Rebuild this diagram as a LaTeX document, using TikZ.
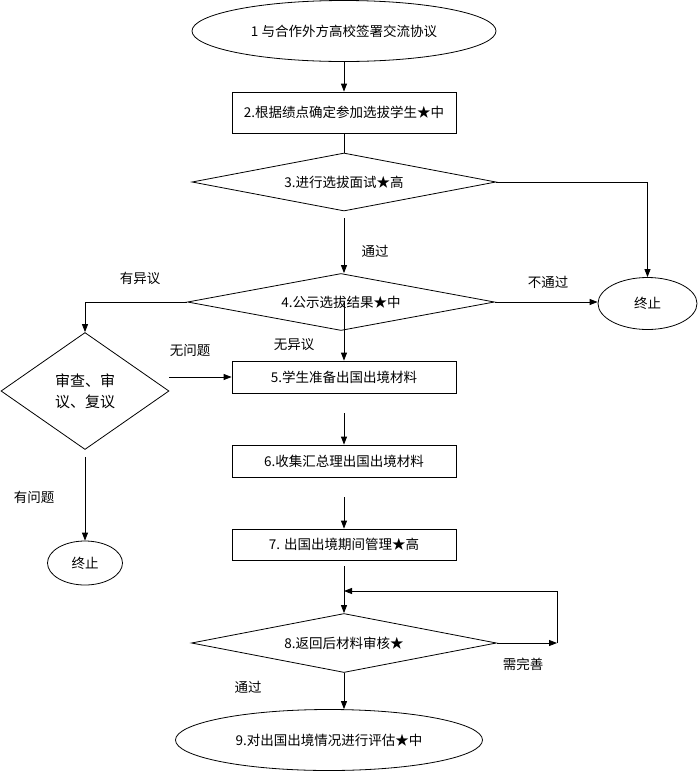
\documentclass[tikz,border=0pt]{standalone}
\usepackage{fontspec}
\setmainfont{Noto Sans CJK SC}
\usetikzlibrary{shapes.geometric,arrows.meta}

\begin{document}
\begin{tikzpicture}[x=1pt, y=-1pt, line width=0.8pt,
    font=\fontsize{13.5}{17}\selectfont,
    oval/.style={ellipse, draw, inner sep=0pt},
    box/.style={rectangle, draw, minimum width=224pt, inner sep=0pt},
    choice/.style={diamond, draw, inner sep=0pt, shape aspect=5},
    arr/.style={-{Triangle[length=8pt,width=6pt]}}]
    \useasboundingbox (0,0) rectangle (699,772);

    % Draw nodes
    \node[oval, minimum width=304pt, minimum height=61pt] (1) at (344,31) {1 与合作外方高校签署交流协议};
    \node[box, minimum height=41pt] (2) at (344,112.5) {2.根据绩点确定参加选拔学生★中};
    \node[choice, minimum width=304pt, minimum height=58pt] (3) at (344,182) {3.进行选拔面试★高};
    \node[choice, minimum width=307pt, minimum height=57pt] (4) at (341,302) {4.公示选拔结果★中};
    \node[oval, minimum width=99pt, minimum height=52pt] (end1) at (647.5,303.5) {终止};
    \node[choice, shape aspect=1.4, minimum width=168pt, minimum height=117pt, align=center,
          font=\fontsize{15}{21}\selectfont] (review) at (85,391) {审查、审\\议、复议};
    \node[oval, minimum width=75pt, minimum height=44pt] (end2) at (85,563) {终止};
    \node[box, minimum height=32pt] (5) at (344,377) {5.学生准备出国出境材料};
    \node[box, minimum height=32pt] (6) at (344,461) {6.收集汇总理出国出境材料};
    \node[box, minimum height=31pt] (7) at (344,544.5) {7. 出国出境期间管理★高};
    \node[choice, minimum width=305pt, minimum height=59pt] (8) at (344,643) {8.返回后材料审核★};
    \node[oval, minimum width=307pt, minimum height=61pt] (9) at (329,740) {9.对出国出境情况进行评估★中};

    % Draw labels
    \node (pass1) at (375,251) {通过};
    \node (objection) at (140,278) {有异议};
    \node (fail) at (548,282) {不通过};
    \node (noissue) at (190,350) {无问题};
    \node (noobjection) at (294,345) {无异议};
    \node (issue) at (34,497) {有问题};
    \node (improve) at (523,664) {需完善};
    \node (pass2) at (248,687) {通过};

    % Loop points
    \coordinate (loopR) at (557,643);
    \coordinate (loopT) at (557,591);
    \coordinate (loopL) at (344,591);

    % Draw directed edges
    \draw[arr] (1) -- (2);
    \draw (2) -- (3);
    \draw[arr] (3.east) -| (end1.north); % not passed
    \draw[arr, shorten <=7pt] (3) -- (3 |- 4.north);
    \draw[arr] (4.east) -- (4.east -| end1.west);
    \draw[arr] (4.west) -| (review.north); % objection
    \draw[arr] (4.center -| 5.north) -- (5.north);
    \draw[arr] (review.east |- 5.west) -- (5.west);
    \draw[arr, shorten <=7pt] (review) -- (end2);
    \draw[arr, shorten <=20pt] (5) -- (6);
    \draw[arr, shorten <=20pt] (6) -- (7);
    \draw[arr, shorten <=6pt] (7) -- (8);
    \draw[arr] (8.east) -- (loopR);
    \draw[arr] (loopR) -- (loopT) -- (loopL); % back for rework
    \draw[arr] (8.south) -- (8.south |- 9.north);
\end{tikzpicture}
\end{document}
